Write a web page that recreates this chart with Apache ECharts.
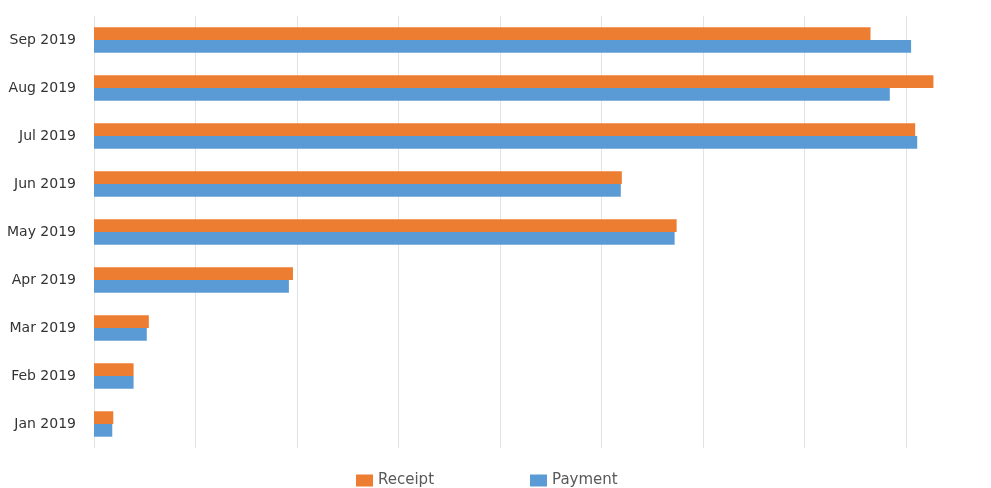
<!DOCTYPE html>
<html>
<head>
<meta charset="utf-8">
<script src="https://cdn.jsdelivr.net/npm/echarts@6/dist/echarts.min.js"></script>
<style>
  html, body { margin: 0; padding: 0; background: #fff; }
  #chart { width: 991px; height: 488px; }
</style>
</head>
<body>
<div id="chart"></div>
<script>
// months, bottom to top
const months = ['Jan 2019', 'Feb 2019', 'Mar 2019', 'Apr 2019', 'May 2019', 'Jun 2019', 'Jul 2019', 'Aug 2019', 'Sep 2019'];
// values in gridline units
const receipt = [0.19, 0.39, 0.54, 1.96, 5.74, 5.20, 8.09, 8.27, 7.65];
const payment = [0.18, 0.39, 0.52, 1.92, 5.72, 5.19, 8.11, 7.84, 8.05];

const chart = echarts.init(document.getElementById('chart'));

const option = {
  animation: false,
  textStyle: { fontFamily: 'DejaVu Sans' },
  grid: {
    left: 94,
    right: 0,
    top: 16,
    bottom: 40
  },
  legend: {
    top: 468,
    left: 351,
    itemWidth: 17,
    itemHeight: 12,
    itemGap: 96,
    icon: 'rect',
    textStyle: { color: '#595959', fontSize: 15 },
    data: ['Receipt', 'Payment']
  },
  xAxis: {
    type: 'value',
    min: 0,
    max: 8.837,
    interval: 1,
    axisLabel: { show: false },
    axisLine: { show: false },
    axisTick: { show: false },
    splitLine: { show: true, showMaxLine: false, lineStyle: { color: '#e2e2e2', width: 1 } }
  },
  yAxis: {
    type: 'category',
    data: months,
    axisLine: { show: false },
    axisTick: { show: false },
    axisLabel: { color: '#333', fontSize: 14, margin: 18 }
  },
  series: [
    {
      name: 'Receipt',
      type: 'bar',
      data: receipt,
      itemStyle: { color: '#ED7D31' },
      barGap: '0%',
      barCategoryGap: '47%'
    },
    {
      name: 'Payment',
      type: 'bar',
      data: payment,
      itemStyle: { color: '#5B9BD5' }
    }
  ]
};

chart.setOption(option);
</script>
</body>
</html>
